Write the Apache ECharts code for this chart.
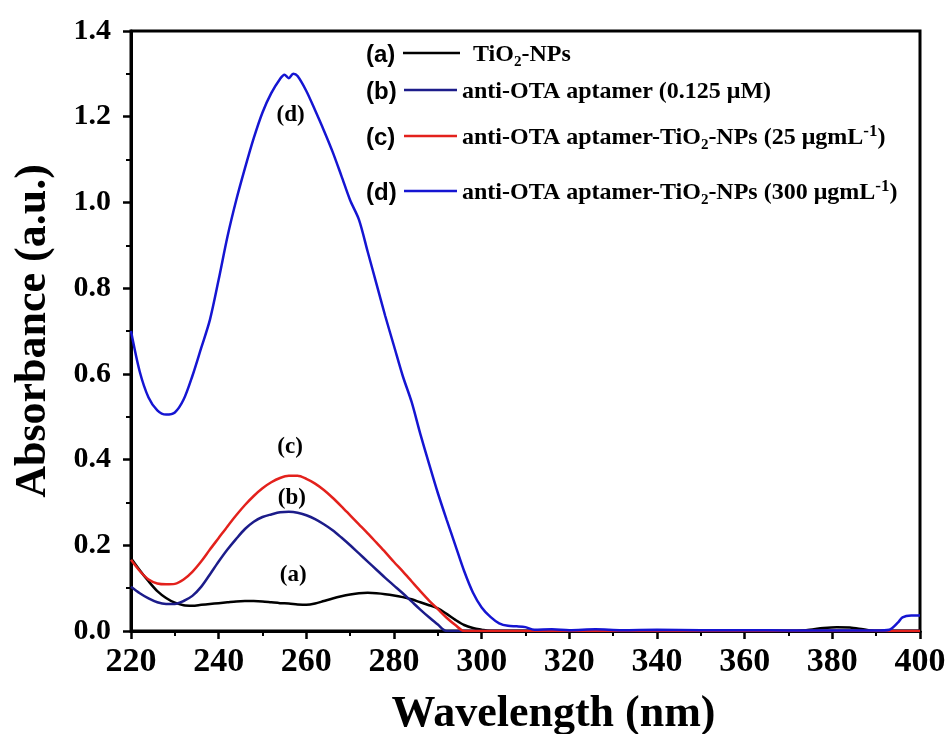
<!DOCTYPE html>
<html>
<head>
<meta charset="utf-8">
<script src="https://cdn.jsdelivr.net/npm/echarts@6/dist/echarts.min.js"></script>
<style>
  html, body { margin: 0; background: #fff; }
  #chart { width: 949px; height: 734px; }
</style>
</head>
<body>
<div id="chart"></div>
<script>
// (a) TiO2-NPs
var wlA = [220,222,224,226,228,230,232,234,236,238,240,242,244,246,248,250,252,254,256,258,
  260,262,264,266,268,270,272,274,276,278,280,282,284,286,288,290,292,294,296,298,300,302,
  310,330,350,370,374,378,381,384,387,390,400];
var absA = [0.17,0.142,0.116,0.093,0.077,0.066,0.06,0.059,0.061,0.063,0.065,0.067,0.069,0.07,0.07,
  0.069,0.067,0.065,0.064,0.062,0.061,0.064,0.07,0.076,0.081,0.085,0.088,0.089,0.088,0.086,
  0.083,0.079,0.074,0.067,0.06,0.053,0.04,0.026,0.014,0.007,0.003,0,
  0,0,0,0,0.002,0.007,0.009,0.008,0.004,0,0];

// (b) anti-OTA aptamer
var wlB = [220,222,224,226,228,230,232,234,236,238,240,242,244,246,248,250,252,254,256,258,
  260,262,264,266,268,270,272,274,276,278,280,282,284,286,288,290,292,300,400];
var absB = [0.103,0.088,0.076,0.067,0.063,0.063,0.07,0.082,0.103,0.132,0.162,0.19,0.215,0.238,0.255,
  0.266,0.272,0.277,0.278,0.276,0.27,0.261,0.249,0.235,0.218,0.2,0.181,0.162,0.143,0.124,
  0.106,0.088,0.069,0.05,0.032,0.015,0,0,0];

// (c) aptamer-TiO2-NPs 25 ug/mL
var wlC = [220,222,224,226,228,230,232,234,236,238,240,242,244,246,248,250,252,254,256,258,
  260,262,264,266,268,270,272,274,276,278,280,282,284,286,288,290,292,294,296,300,400];
var absC = [0.166,0.14,0.12,0.111,0.109,0.11,0.12,0.138,0.162,0.19,0.217,0.244,0.27,0.294,0.315,
  0.333,0.347,0.357,0.362,0.362,0.355,0.344,0.329,0.311,0.291,0.27,0.249,0.228,0.206,0.184,
  0.161,0.139,0.116,0.093,0.071,0.051,0.031,0.014,0,0,0];

// (d) aptamer-TiO2-NPs 300 ug/mL
var wlD = [220,222,224,226,228,230,232,234,236,238,240,242,244,246,248,250,252,254,255,256,257,258,
  260,262,264,266,268,270,272,274,276,278,280,282,284,286,288,290,292,294,296,298,300,302,304,
  306,308,310,312,316,320,326,332,340,350,360,370,380,390,393,395,396,398,400];
var absD = [0.70,0.605,0.545,0.515,0.505,0.51,0.54,0.595,0.66,0.726,0.82,0.92,1.005,1.08,1.15,
  1.21,1.255,1.288,1.298,1.29,1.3,1.295,1.26,1.215,1.168,1.118,1.062,1.005,0.96,0.885,0.81,
  0.735,0.665,0.595,0.535,0.46,0.39,0.322,0.26,0.2,0.14,0.09,0.055,0.033,0.018,0.012,0.011,
  0.009,0.003,0.004,0.002,0.004,0.002,0.003,0.002,0.002,0.001,0.001,0.001,0.003,0.02,0.032,
  0.036,0.036];

var xTicks = { min: 220, max: 400, step: 20 };
var yTicks = { min: 0, max: 1.4, step: 0.2 };

// curve tags inside the plot
var noteText = ['(d)', '(c)', '(b)', '(a)'];
var noteX = [256.4, 256.3, 256.7, 257];
var noteY = [1.204, 0.43, 0.31, 0.131];

var colors = ['#000000', '#1c1c8a', '#e3211c', '#1515d2'];
var serif = "'Liberation Serif', 'Times New Roman', serif";
var sans = "'Liberation Sans', Arial, sans-serif";

function pairs(xs, ys) {
  return xs.map(function (x, i) { return [x, ys[i]]; });
}

var chart = echarts.init(document.getElementById('chart'));

function line(name, xs, ys, color) {
  return {
    name: name,
    type: 'line',
    data: pairs(xs, ys),
    showSymbol: false,
    smooth: 0.3,
    lineStyle: { color: color, width: 2.5 },
    itemStyle: { color: color },
    silent: true
  };
}

var option = {
  animation: false,
  backgroundColor: '#fff',
  grid: {
    left: 131, right: 29, top: 31, bottom: 103,
    outerBoundsMode: 'none',
    containLabel: false,
    show: true, borderColor: '#000', borderWidth: 3
  },
  xAxis: {
    type: 'value',
    min: xTicks.min, max: xTicks.max, interval: xTicks.step,
    name: 'Wavelength (nm)',
    nameLocation: 'middle',
    nameGap: 62,
    nameTextStyle: { fontFamily: serif, fontWeight: 'bold', fontSize: 44, color: '#000', padding: [0, 0, 0, 56] },
    axisLine: { lineStyle: { color: '#000', width: 3 } },
    axisTick: { length: 8, lineStyle: { width: 2.5, color: '#000' } },
    minorTick: { show: true, splitNumber: 2, length: 5, lineStyle: { width: 2, color: '#000' } },
    splitLine: { show: false },
    axisLabel: { fontFamily: serif, fontWeight: 'bold', fontSize: 34, color: '#000', margin: 14 }
  },
  yAxis: {
    type: 'value',
    min: yTicks.min, max: yTicks.max, interval: yTicks.step,
    name: 'Absorbance (a.u.)',
    nameLocation: 'middle',
    nameGap: 75,
    nameTextStyle: { fontFamily: serif, fontWeight: 'bold', fontSize: 44, color: '#000' },
    axisLine: { show: true, lineStyle: { color: '#000', width: 3 } },
    axisTick: { show: true, length: 8, lineStyle: { width: 2.5, color: '#000' } },
    minorTick: { show: true, splitNumber: 2, length: 5, lineStyle: { width: 2, color: '#000' } },
    splitLine: { show: false },
    axisLabel: {
      fontFamily: serif, fontWeight: 'bold', fontSize: 30, color: '#000', margin: 20,
      formatter: function (v) { return v.toFixed(1); }
    }
  },
  series: [
    line('(a) TiO2-NPs', wlA, absA, colors[0]),
    line('(b) anti-OTA aptamer (0.125 μM)', wlB, absB, colors[1]),
    line('(c) anti-OTA aptamer-TiO2-NPs (25 μgmL-1)', wlC, absC, colors[2]),
    line('(d) anti-OTA aptamer-TiO2-NPs (300 μgmL-1)', wlD, absD, colors[3])
  ]
};

chart.setOption(option);

// legend drawn by hand: tag, short line, then rich text with sub/superscripts
var rich = {
  t: { fontFamily: serif, fontWeight: 'bold', fontSize: 24, lineHeight: 30, fill: '#000' },
  s: { fontFamily: serif, fontWeight: 'bold', fontSize: 15, lineHeight: 15, verticalAlign: 'bottom', fill: '#000' },
  u: { fontFamily: serif, fontWeight: 'bold', fontSize: 17, lineHeight: 15, verticalAlign: 'top', fill: '#000' }
};
var legendRows = [
  { tag: '(a)', y: 55, x1: 403, x2: 460, tx: 473, text: '{t|TiO}{s|2}{t|-NPs}' },
  { tag: '(b)', y: 92, x1: 404, x2: 457, tx: 462, text: '{t|anti-OTA aptamer (0.125 μM)}' },
  { tag: '(c)', y: 138, x1: 404, x2: 457, tx: 462, text: '{t|anti-OTA aptamer-TiO}{s|2}{t|-NPs (25 μgmL}{u|-1}{t|)}' },
  { tag: '(d)', y: 193, x1: 404, x2: 457, tx: 462, text: '{t|anti-OTA aptamer-TiO}{s|2}{t|-NPs (300 μgmL}{u|-1}{t|)}' }
];

var graphics = [];
legendRows.forEach(function (r, i) {
  graphics.push({
    type: 'text', x: 366, y: r.y,
    style: { text: r.tag, fontFamily: sans, fontWeight: 'bold', fontSize: 24, fill: '#000', verticalAlign: 'middle' }
  });
  graphics.push({
    type: 'line', shape: { x1: r.x1, y1: r.y - 2, x2: r.x2, y2: r.y - 2 },
    style: { stroke: colors[i], lineWidth: 2.5 }
  });
  graphics.push({
    type: 'text', x: r.tx, y: r.y,
    style: { text: r.text, rich: rich, verticalAlign: 'middle' }
  });
});

noteText.forEach(function (t, i) {
  var p = chart.convertToPixel({ gridIndex: 0 }, [noteX[i], noteY[i]]);
  graphics.push({
    type: 'text', x: p[0], y: p[1],
    style: { text: t, fontFamily: serif, fontWeight: 'bold', fontSize: 23, fill: '#000', align: 'center', verticalAlign: 'middle' }
  });
});

chart.setOption({ graphic: graphics });
</script>
</body>
</html>
